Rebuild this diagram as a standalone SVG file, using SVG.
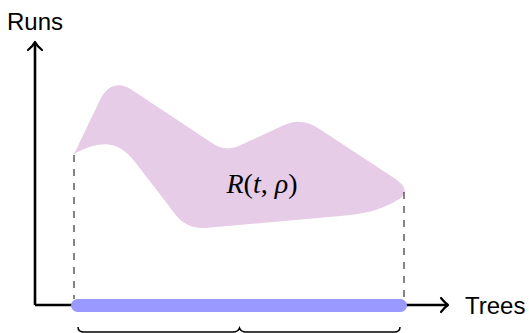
<svg xmlns="http://www.w3.org/2000/svg" width="529" height="333" viewBox="0 0 529 333">
<style>
.axis{fill:none;stroke:#000;stroke-width:2.6;stroke-linecap:butt}
.head{fill:none;stroke:#000;stroke-width:2.2;stroke-linecap:round;stroke-linejoin:round}
.dash{fill:none;stroke:#333;stroke-width:1.2;stroke-dasharray:7 7}
.lbl{font-family:"Liberation Sans",Arial,sans-serif;font-size:24px;fill:#000}
.math{font-family:"Liberation Serif","Times New Roman",serif;font-size:28px;fill:#000}
</style>
<rect width="529" height="333" fill="#fff"/>
<g id="region">
<path d="M 74,154 L 100,100 C 106,87 118,80 132,90 L 212,143 C 222,150 232,150 243,144 L 282,126 C 295,120 305,120 318,128 L 394,178 C 408,187 408,195 396,201 C 380,210 365,214 340,216 L 205,228 C 190,229 180,222 172,210 L 135,162 C 118,140 100,140 74,154 Z" fill="#e6cce6"/>
<text class="math" x="262" y="193" text-anchor="middle"><tspan font-style="italic">R</tspan>(<tspan font-style="italic">t</tspan>, <tspan font-style="italic">ρ</tspan>)</text>
</g>
<g id="connectors">
<line class="dash" x1="74" y1="155" x2="74" y2="299"/>
<line class="dash" x1="404" y1="192" x2="404" y2="299"/>
<path class="axis" d="M 35,305 L 35,43 M 35,305 L 446,305"/>
<path class="head" d="M 28,50 Q 33,46 35,42 Q 37,46 42,50"/>
<path class="head" d="M 441,298 Q 445,303 448,305 Q 445,307 441,312"/>
</g>
<g id="bar">
<rect x="71" y="299" width="336" height="13" rx="6.5" fill="#9999ff"/>
</g>
<g id="brace">
<path d="M 78,327 Q 78,332 84,332 L 233,332 Q 238,332 239.5,328 Q 241,332 246,332 L 394,332 Q 400,332 400,327" fill="none" stroke="#000" stroke-width="1.5"/>
</g>
<g id="labels">
<text class="lbl" x="7" y="30">Runs</text>
<text class="lbl" x="465" y="314">Trees</text>
</g>
</svg>
